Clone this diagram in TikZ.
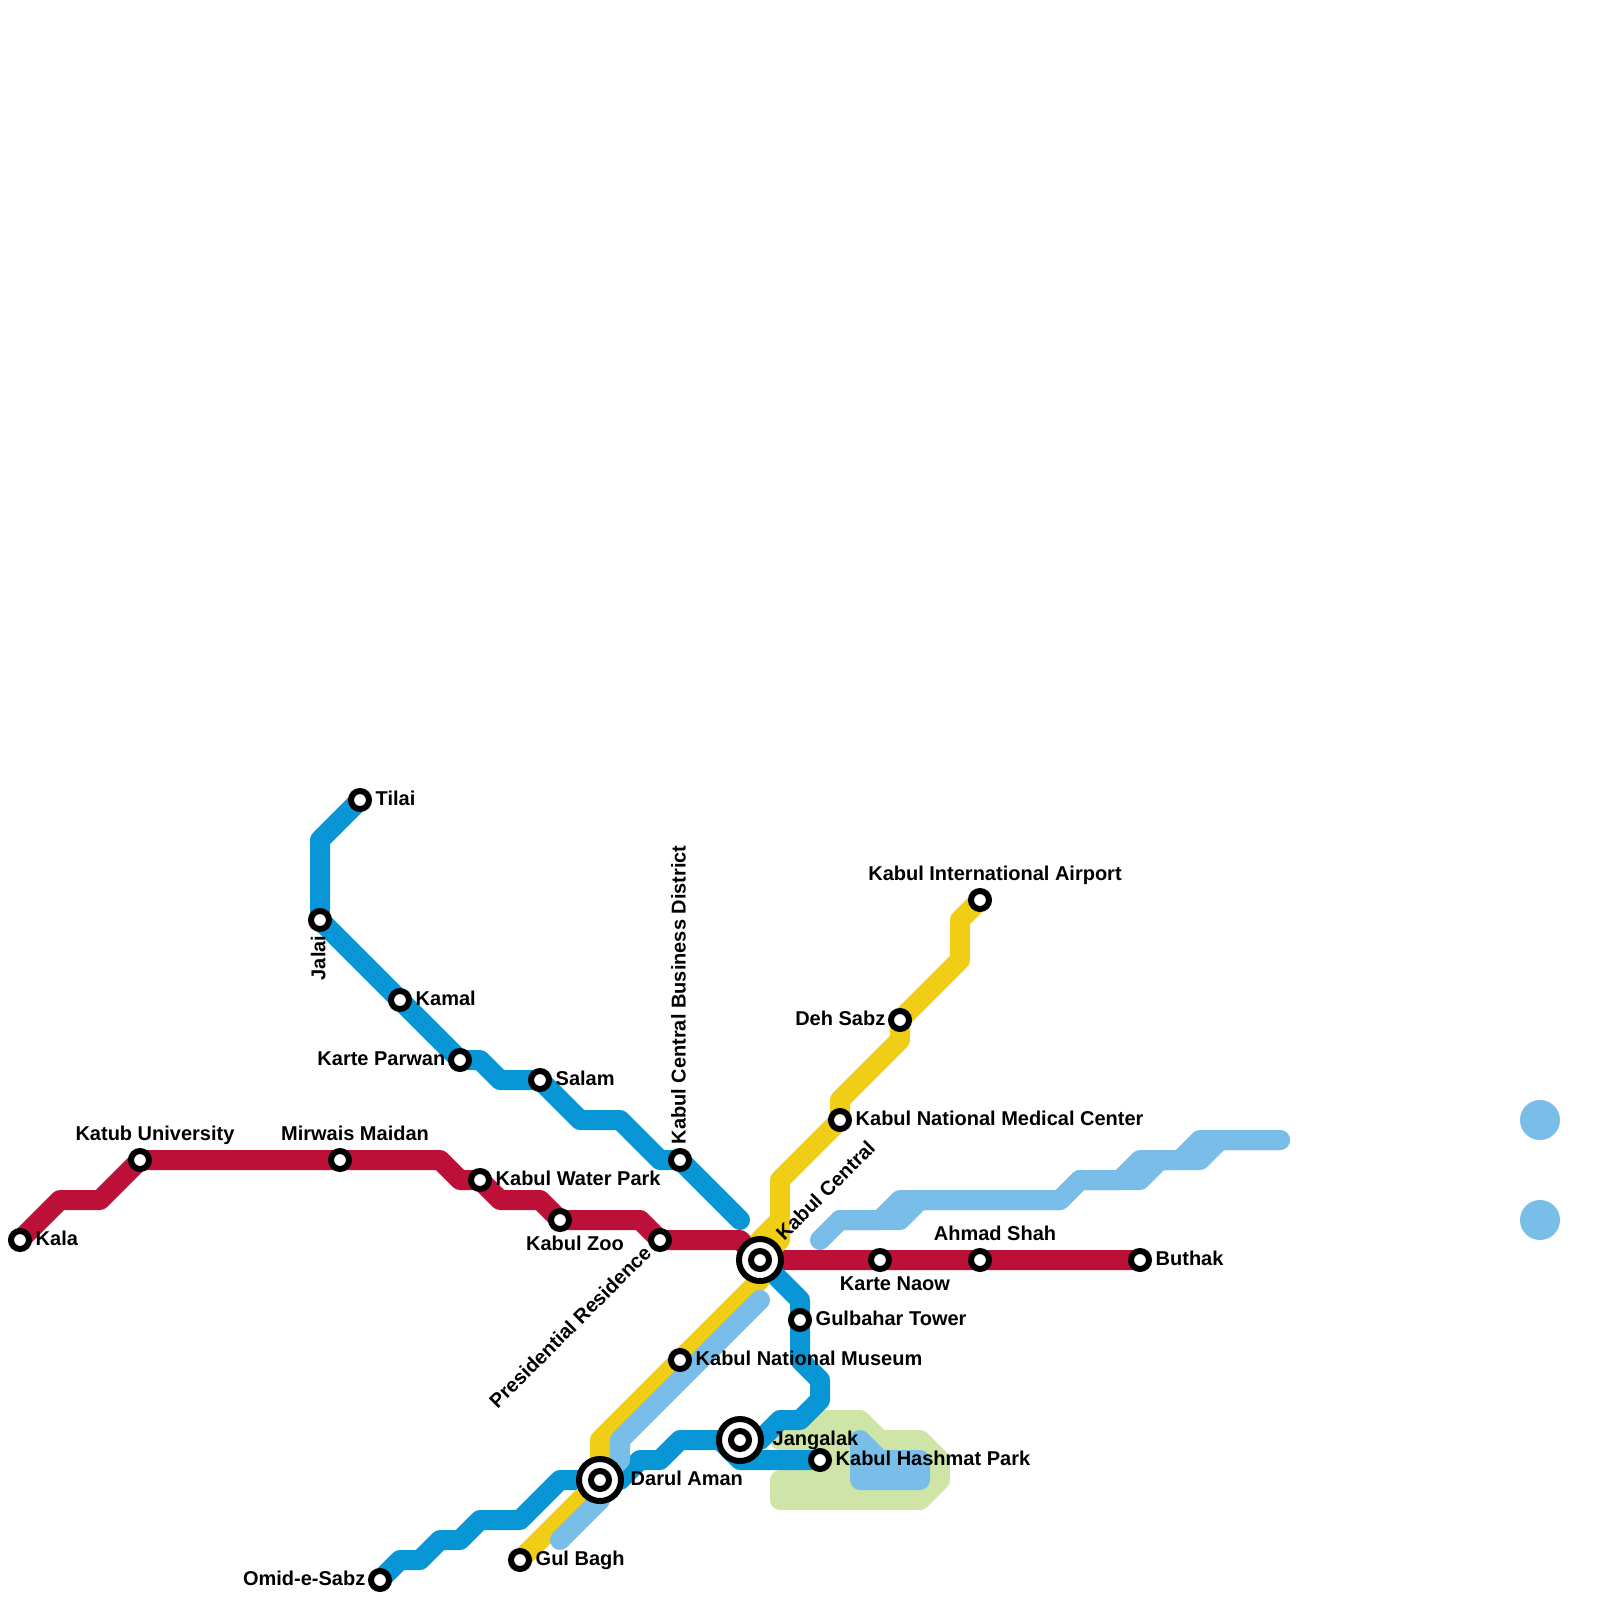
\documentclass[tikz,border=0pt]{standalone}
\usepackage{fontspec}
\setmainfont{Liberation Sans}
\usetikzlibrary{positioning}
\definecolor{linered}{HTML}{BD1038}
\definecolor{lineblue}{HTML}{0896D7}
\definecolor{lineyellow}{HTML}{F0CE15}
\definecolor{linesky}{HTML}{79BDE9}
\definecolor{linegreen}{HTML}{CFE4A7}
\tikzset{
    metroline/.style={line width=0.2cm, line cap=round, line join=round},
    stn/.style={circle, draw=black, fill=white, line width=0.06cm, minimum size=0.18cm, inner sep=0pt, outer sep=0pt},
    hubouter/.style={circle, draw=black, fill=white, line width=0.06cm, minimum size=0.42cm, inner sep=0pt, outer sep=0pt},
    lbl/.style={font=\bfseries\fontsize{5.69}{7}\selectfont, inner sep=0pt, text=black, text height=0.15cm, text depth=0.04cm},
}
\begin{document}
\begin{tikzpicture}[x=0.2cm, y=-0.2cm, node distance=0.06cm]

    \useasboundingbox (0,0) rectangle (80,80);

    % Station positions
    \foreach \n/\x/\y in {kala/1/62, katub/7/58, mirwais/17/58, waterpark/24/59, zoo/28/61, residence/33/62,
        central/38/63, naow/44/63, ahmad/49/63, buthak/57/63,
        tilai/18/40, jalai/16/46, kamal/20/50, parwan/23/53, salam/27/54, district/34/58,
        gulbahar/40/66, hashmat/41/73, jangalak/37/72, darul/30/74, omid/19/79,
        airport/49/45, dehsabz/45/51, medical/42/56, museum/34/68, gulbagh/26/78}
        \coordinate (\n) at (\x,\y);

    % Park area
    \draw[metroline, linegreen, fill=linegreen] (40,72) -- (41,71) -- (43,71) -- (44,72) -- (46,72) -- (47,73) -- (47,74)
        -- (46,75) -- (39,75) -- (39,74) -- (40,74) -- cycle;
    \draw[metroline, linegreen] (39,72) -- (40,72);

    % Red line
    \draw[metroline, linered] (kala) -- (3,60) -- (5,60) -- (katub) -- (mirwais) -- (22,58) -- (23,59) -- (waterpark)
        -- (25,60) -- (27,60) -- (zoo) -- (32,61) -- (residence) -- (37,62) -- (central) -- (buthak);

    % Blue line
    \draw[metroline, lineblue] (tilai) -- (16,42) -- (jalai) -- (kamal) -- (parwan) -- (24,53) -- (25,54) -- (salam)
        -- (29,56) -- (31,56) -- (33,58) -- (district) -- (37,61);
    \draw[metroline, lineblue] (central) -- (40,65) -- (gulbahar) -- (40,68) -- (41,69) -- (41,70) -- (40,71) -- (39,71)
        -- (38,72) -- (jangalak) -- (34,72) -- (33,73) -- (32,73) -- (31,74) -- (darul) -- (28,74) -- (26,76)
        -- (24,76) -- (23,77) -- (22,77) -- (21,78) -- (20,78) -- (omid);
    \draw[metroline, lineblue] (36,72) -- (37,73) -- (hashmat);

    % Yellow line
    \draw[metroline, lineyellow] (airport) -- (48,46) -- (48,48) -- (dehsabz) -- (45,52) -- (42,55) -- (medical) -- (39,59)
        -- (39,62) -- (central) -- (38,64) -- (museum) -- (30,72) -- (darul) -- (gulbagh);
    \draw[metroline, lineyellow] (39,61) -- (38,62) -- (central);

    % Light blue lines
    \draw[metroline, linesky] (38,65) -- (31,72) -- (31,73) -- (darul) -- (30,75) -- (28,77);
    \draw[metroline, linesky] (41,62) -- (42,61) -- (44,61) -- (45,60) -- (53,60) -- (54,59) -- (56,59) -- (57,58)
        -- (59,58) -- (60,57) -- (64,57);
    \draw[metroline, linesky] (42,61) -- (45,61) -- (46,60) -- (53,60) -- (54,59) -- (57,59) -- (58,58) -- (60,58)
        -- (61,57) -- (64,57);
    \draw[metroline, linesky, fill=linesky] (43,72) -- (44,73) -- (46,73) -- (46,74) -- (43,74) -- cycle;
    \foreach \y in {56,61}
        \fill[linesky] (77,\y) circle (0.2cm);

    % Stations
    \foreach \n in {kala,katub,mirwais,waterpark,zoo,residence,naow,ahmad,buthak,tilai,jalai,kamal,parwan,salam,
        district,gulbahar,hashmat,omid,airport,dehsabz,medical,museum,gulbagh}
        \node[stn] (\n-st) at (\n) {};
    \foreach \n in {central,jangalak,darul}
        \node[hubouter] (\n-hub) at (\n) {};
    \foreach \n in {central,jangalak,darul}
        \node[stn] (\n-st) at (\n) {};

    % Labels on the right
    \foreach \n/\t in {kala/Kala, tilai/Tilai, kamal/Kamal, salam/Salam, waterpark/Kabul Water Park, buthak/Buthak,
        medical/Kabul National Medical Center, gulbahar/Gulbahar Tower, museum/Kabul National Museum,
        hashmat/Kabul Hashmat Park, gulbagh/Gul Bagh}
        \node[lbl, right=of \n-st] (\n-lbl) {\t};
    \node[lbl, right=0.11cm of jangalak-hub] (jangalak-lbl) {Jangalak};
    \node[lbl, right=0.09cm of darul-hub] (darul-lbl) {Darul Aman};

    % Labels on the left
    \foreach \n/\t in {parwan/Karte Parwan, dehsabz/Deh Sabz, omid/Omid-e-Sabz}
        \node[lbl, left=0.05cm of \n-st] (\n-lbl) {\t};

    % Labels above and below
    \foreach \n/\t in {katub/Katub University, mirwais/Mirwais Maidan, airport/Kabul International Airport, ahmad/Ahmad Shah}
        \node[lbl, above=0.06cm of \n-st, xshift=0.15cm] (\n-lbl) {\t};
    \node[lbl, below=0.06cm of naow-st, xshift=0.15cm] (naow-lbl) {Karte Naow};
    \node[lbl, below=0.06cm of zoo-st, xshift=0.15cm] (zoo-lbl) {Kabul Zoo};

    % Slanted labels
    \node[lbl, rotate=90, anchor=east] (jalai-lbl) at ([yshift=-0.15cm]jalai) {Jalai};
    \node[lbl, rotate=90, anchor=west] (district-lbl) at ([yshift=0.15cm]district) {Kabul Central Business District};
    \node[lbl, rotate=45, anchor=west] (central-lbl) at ([shift={(0.20cm,0.22cm)}]central) {Kabul Central};
    \node[lbl, rotate=45, anchor=east] (residence-lbl) at ([shift={(-0.11cm,-0.10cm)}]residence) {Presidential Residence};

\end{tikzpicture}
\end{document}
